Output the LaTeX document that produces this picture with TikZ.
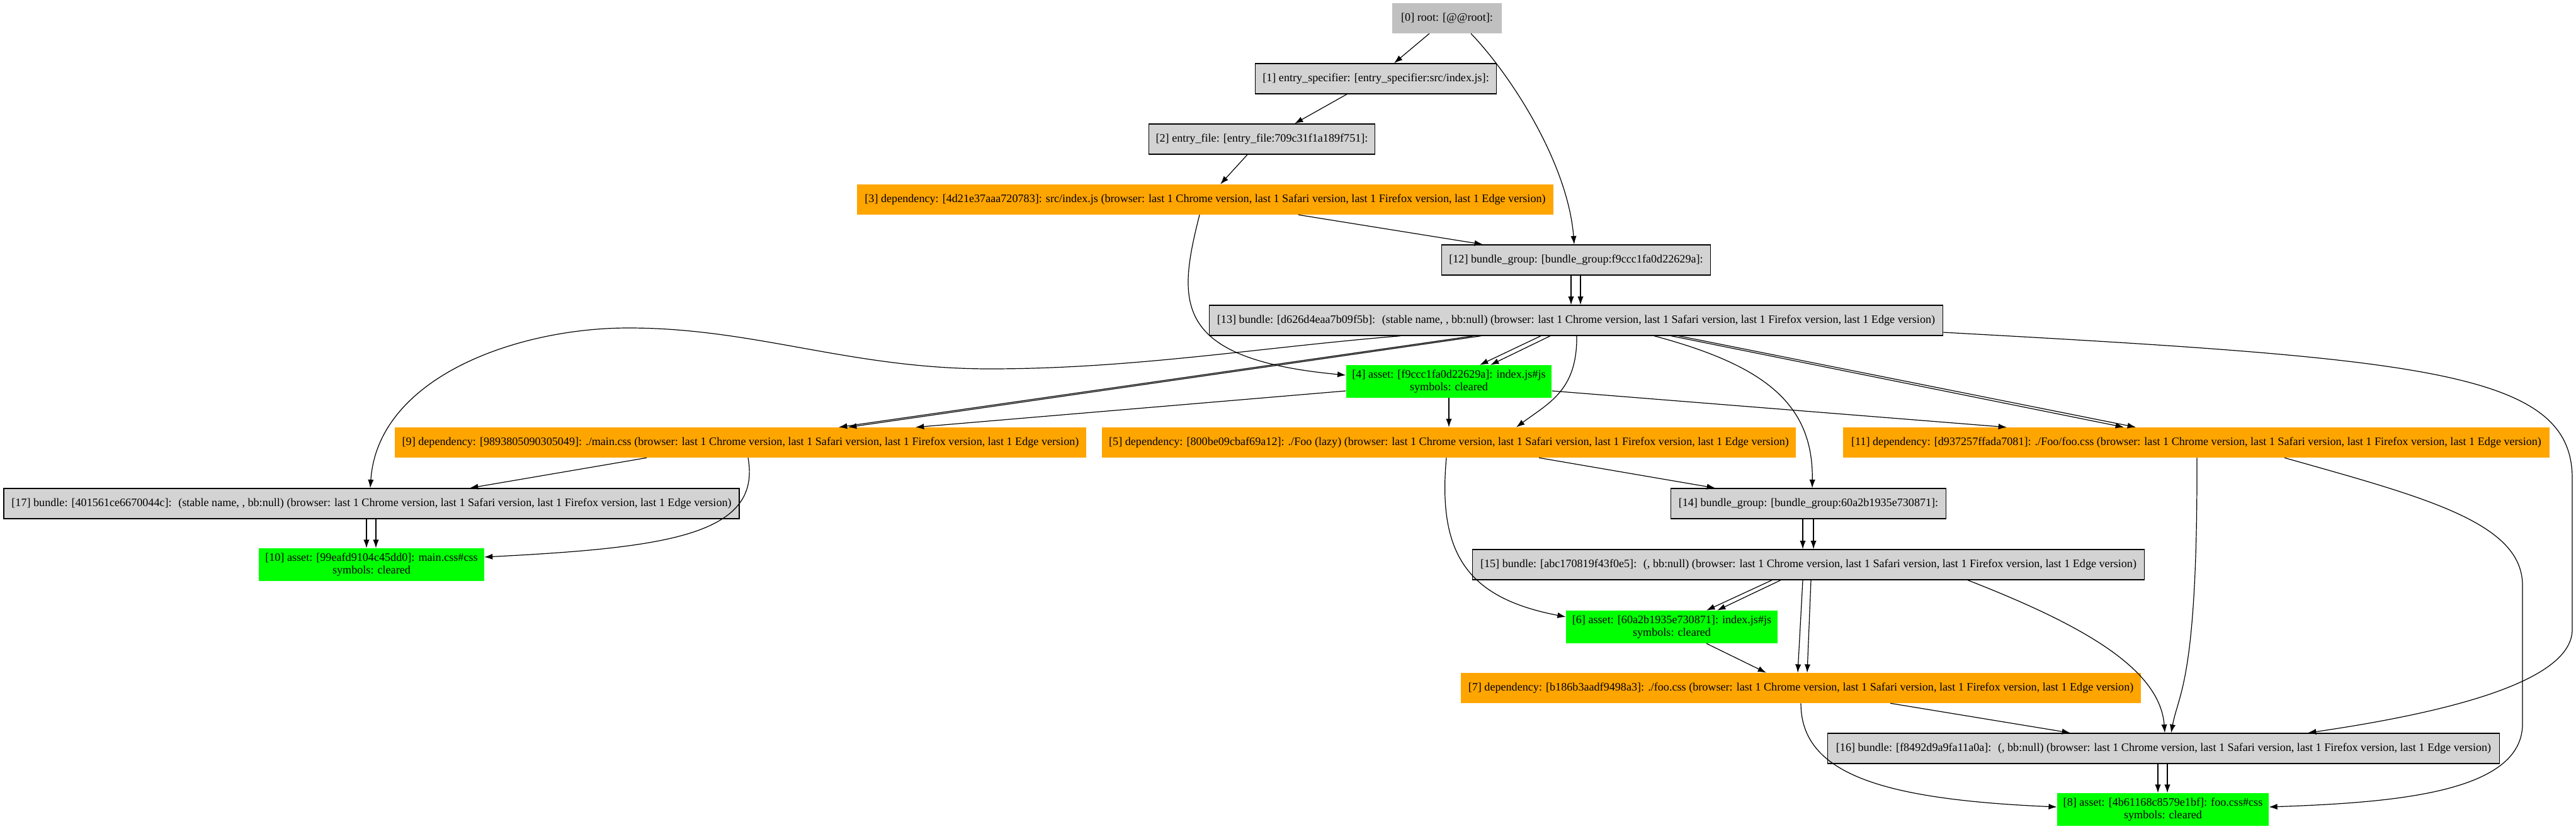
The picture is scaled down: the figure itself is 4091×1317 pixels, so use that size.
\documentclass[tikz,border=0pt]{standalone}
\usepackage{fontspec}
\setmainfont{Liberation Serif}
\usetikzlibrary{arrows.meta}
\definecolor{boxgray}{HTML}{D3D3D3}
\definecolor{rootgray}{HTML}{C0C0C0}
\definecolor{deporange}{HTML}{FFA500}
\definecolor{assetgreen}{HTML}{00FF00}
\newcommand{\brw}{(browser: last 1 Chrome version, last 1 Safari version, last 1 Firefox version, last 1 Edge version)}
\begin{document}
\begin{tikzpicture}[x=0.75pt,y=-0.75pt,
  box/.style={inner sep=0pt,minimum height=36pt,font=\fontsize{13.6}{15.5}\selectfont,align=center},
  rootbox/.style={box,fill=rootgray},
  bundlebox/.style={box,fill=boxgray,draw=black,line width=1pt},
  depbox/.style={box,fill=deporange},
  assetbox/.style={box,fill=assetgreen,minimum height=39pt},
  edge/.style={-{Latex[length=10pt,width=7pt]},line width=0.9pt,black}]
\fill[white] (0,0) rectangle (4091,1317);

% root
\node[rootbox,minimum width=130pt] (n0) at (2298,29) {[0] root: [@@root]:};
% entry
\node[bundlebox,minimum width=287pt] (n1) at (2185,125) {[1] entry\_specifier: [entry\_specifier:src/index.js]:};
\node[bundlebox,minimum width=269pt] (n2) at (2004,221) {[2] entry\_file: [entry\_file:709c31f1a189f751]:};
% dependency 3
\node[depbox,minimum width=829pt] (n3) at (1914,317) {[3] dependency: [4d21e37aaa720783]: src/index.js \brw};
% bundle group 12, bundle 13
\node[bundlebox,minimum width=320pt] (n12) at (2503,413) {[12] bundle\_group: [bundle\_group:f9ccc1fa0d22629a]:};
\node[bundlebox,minimum width=874pt] (n13) at (2503,509) {[13] bundle: [d626d4eaa7b09f5b]: \ (stable name, , bb:null) \brw};
% asset 4
\node[assetbox,minimum width=245pt] (n4) at (2301,606) {[4] asset: [f9ccc1fa0d22629a]: index.js\#js\\symbols: cleared};
% dependencies 9, 5, 11
\node[depbox,minimum width=824pt] (n9) at (1176,703) {[9] dependency: [9893805090305049]: ./main.css \brw};
\node[depbox,minimum width=827pt] (n5) at (2301,703) {[5] dependency: [800be09cbaf69a12]: ./Foo (lazy) \brw};
\node[depbox,minimum width=841pt] (n11) at (3488,703) {[11] dependency: [d937257ffada7081]: ./Foo/foo.css \brw};
% bundle 17, asset 10
\node[bundlebox,minimum width=876pt] (n17) at (590,800) {[17] bundle: [401561ce6670044c]: \ (stable name, , bb:null) \brw};
\node[assetbox,minimum width=268pt] (n10) at (590,897) {[10] asset: [99eafd9104c45dd0]: main.css\#css\\symbols: cleared};
% bundle group 14, bundle 15
\node[bundlebox,minimum width=328pt] (n14) at (2872,800) {[14] bundle\_group: [bundle\_group:60a2b1935e730871]:};
\node[bundlebox,minimum width=800pt] (n15) at (2872,897) {[15] bundle: [abc170819f43f0e5]: \ (, bb:null) \brw};
% asset 6, dependency 7
\node[assetbox,minimum width=252pt] (n6) at (2655,996) {[6] asset: [60a2b1935e730871]: index.js\#js\\symbols: cleared};
\node[depbox,minimum width=810pt] (n7) at (2860,1093) {[7] dependency: [b186b3aadf9498a3]: ./foo.css \brw};
% bundle 16, asset 8
\node[bundlebox,minimum width=800pt] (n16) at (3436,1189) {[16] bundle: [f8492d9a9fa11a0a]: \ (, bb:null) \brw};
\node[assetbox,minimum width=252pt] (n8) at (3435,1286) {[8] asset: [4b61168c8579e1bf]: foo.css\#css\\symbols: cleared};

% edges top
\draw[edge] (n0.south -| 2270,0) -- (n1.north -| 2214,0);
\draw[edge] (n0.south -| 2336,0) .. controls (2400,120) and (2490,260) .. (n12.north -| 2500,0);
\draw[edge] (n1.south -| 2139,0) -- (n2.north -| 2056,0);
\draw[edge] (n2.south -| 1981,0) -- (n3.north -| 1938,0);
\draw[edge] (n3.south -| 2062,0) -- (n12.north -| 2355,0);
\draw[edge] (n3.south -| 1905,0) .. controls (1870,480) and (1860,570) .. (n4.west |- 0,596);
\draw[edge] (n12.south -| 2495,0) -- (n13.north -| 2495,0);
\draw[edge] (n12.south -| 2510,0) -- (n13.north -| 2510,0);

% edges from 13
\draw[edge] (n13.south -| 2224,0) .. controls (2000,552) and (1800,586) .. (1572,586)
  .. controls (1350,586) and (1200,521) .. (998,521)
  .. controls (820,521) and (600,600) .. (n17.north -| 588,0);
\draw[edge] (n13.south -| 2340,0) -- (n9.north -| 1332,0);
\draw[edge] (n13.south -| 2352,0) -- (n9.north -| 1347,0);
\draw[edge] (n13.south -| 2447,0) -- (n4.north -| 2350,0);
\draw[edge] (n13.south -| 2462,0) -- (n4.north -| 2367,0);
\draw[edge] (n13.south -| 2504,0) .. controls (2505,620) and (2460,640) .. (n5.north -| 2408,0);
\draw[edge] (n13.south -| 2627,0) .. controls (2800,580) and (2880,640) .. (n14.north -| 2878,0);
\draw[edge] (n13.south -| 2654,0) -- (n11.north -| 3373,0);
\draw[edge] (n13.south -| 2666,0) -- (n11.north -| 3392,0);
\draw[edge] (n13.east |- 0,528) .. controls (3850,570) and (4085,590) .. (4085,760) -- (4085,1000)
  .. controls (4085,1080) and (3900,1130) .. (n16.north -| 3665,0);

% edges from 4
\draw[edge] (n4.west |- 0,621) -- (n9.north -| 1454,0);
\draw[edge] (n4.south) -- (n5.north);
\draw[edge] (n4.east |- 0,621) -- (n11.north -| 3187,0);

% edges from 9, 17
\draw[edge] (n9.south -| 1027,0) -- (n17.north -| 746,0);
\draw[edge] (n9.south -| 1188,0) .. controls (1210,850) and (1060,870) .. (n10.east |- 0,885);
\draw[edge] (n17.south -| 582,0) -- (n10.north -| 582,0);
\draw[edge] (n17.south -| 597,0) -- (n10.north -| 597,0);

% edges from 5, 14, 15
\draw[edge] (n5.south -| 2444,0) -- (n14.north -| 2724,0);
\draw[edge] (n5.south -| 2297,0) .. controls (2283,880) and (2330,950) .. (n6.west |- 0,980);
\draw[edge] (n14.south -| 2863,0) -- (n15.north -| 2863,0);
\draw[edge] (n14.south -| 2880,0) -- (n15.north -| 2880,0);
\draw[edge] (n15.south -| 2814,0) -- (n6.north -| 2710,0);
\draw[edge] (n15.south -| 2828,0) -- (n6.north -| 2727,0);
\draw[edge] (n15.south -| 2863,0) -- (n7.north -| 2855,0);
\draw[edge] (n15.south -| 2876,0) -- (n7.north -| 2870,0);
\draw[edge] (n15.south -| 3125,0) .. controls (3300,990) and (3430,1060) .. (n16.north -| 3438,0);

% edges from 11
\draw[edge] (n11.south -| 3489,0) .. controls (3490,1080) and (3460,1100) .. (n16.north -| 3448,0);
\draw[edge] (n11.south -| 3628,0) .. controls (3850,790) and (4006,830) .. (4006,930) -- (4006,1150)
  .. controls (4006,1260) and (3800,1275) .. (n8.east |- 0,1282);

% edges from 6, 7, 16
\draw[edge] (n6.south -| 2710,0) -- (n7.north -| 2805,0);
\draw[edge] (n7.south -| 3002,0) -- (n16.north -| 3288,0);
\draw[edge] (n7.south -| 2860,0) .. controls (2860,1230) and (2990,1270) .. (n8.west |- 0,1282);
\draw[edge] (n16.south -| 3427,0) -- (n8.north -| 3427,0);
\draw[edge] (n16.south -| 3442,0) -- (n8.north -| 3442,0);

\end{tikzpicture}
\end{document}
